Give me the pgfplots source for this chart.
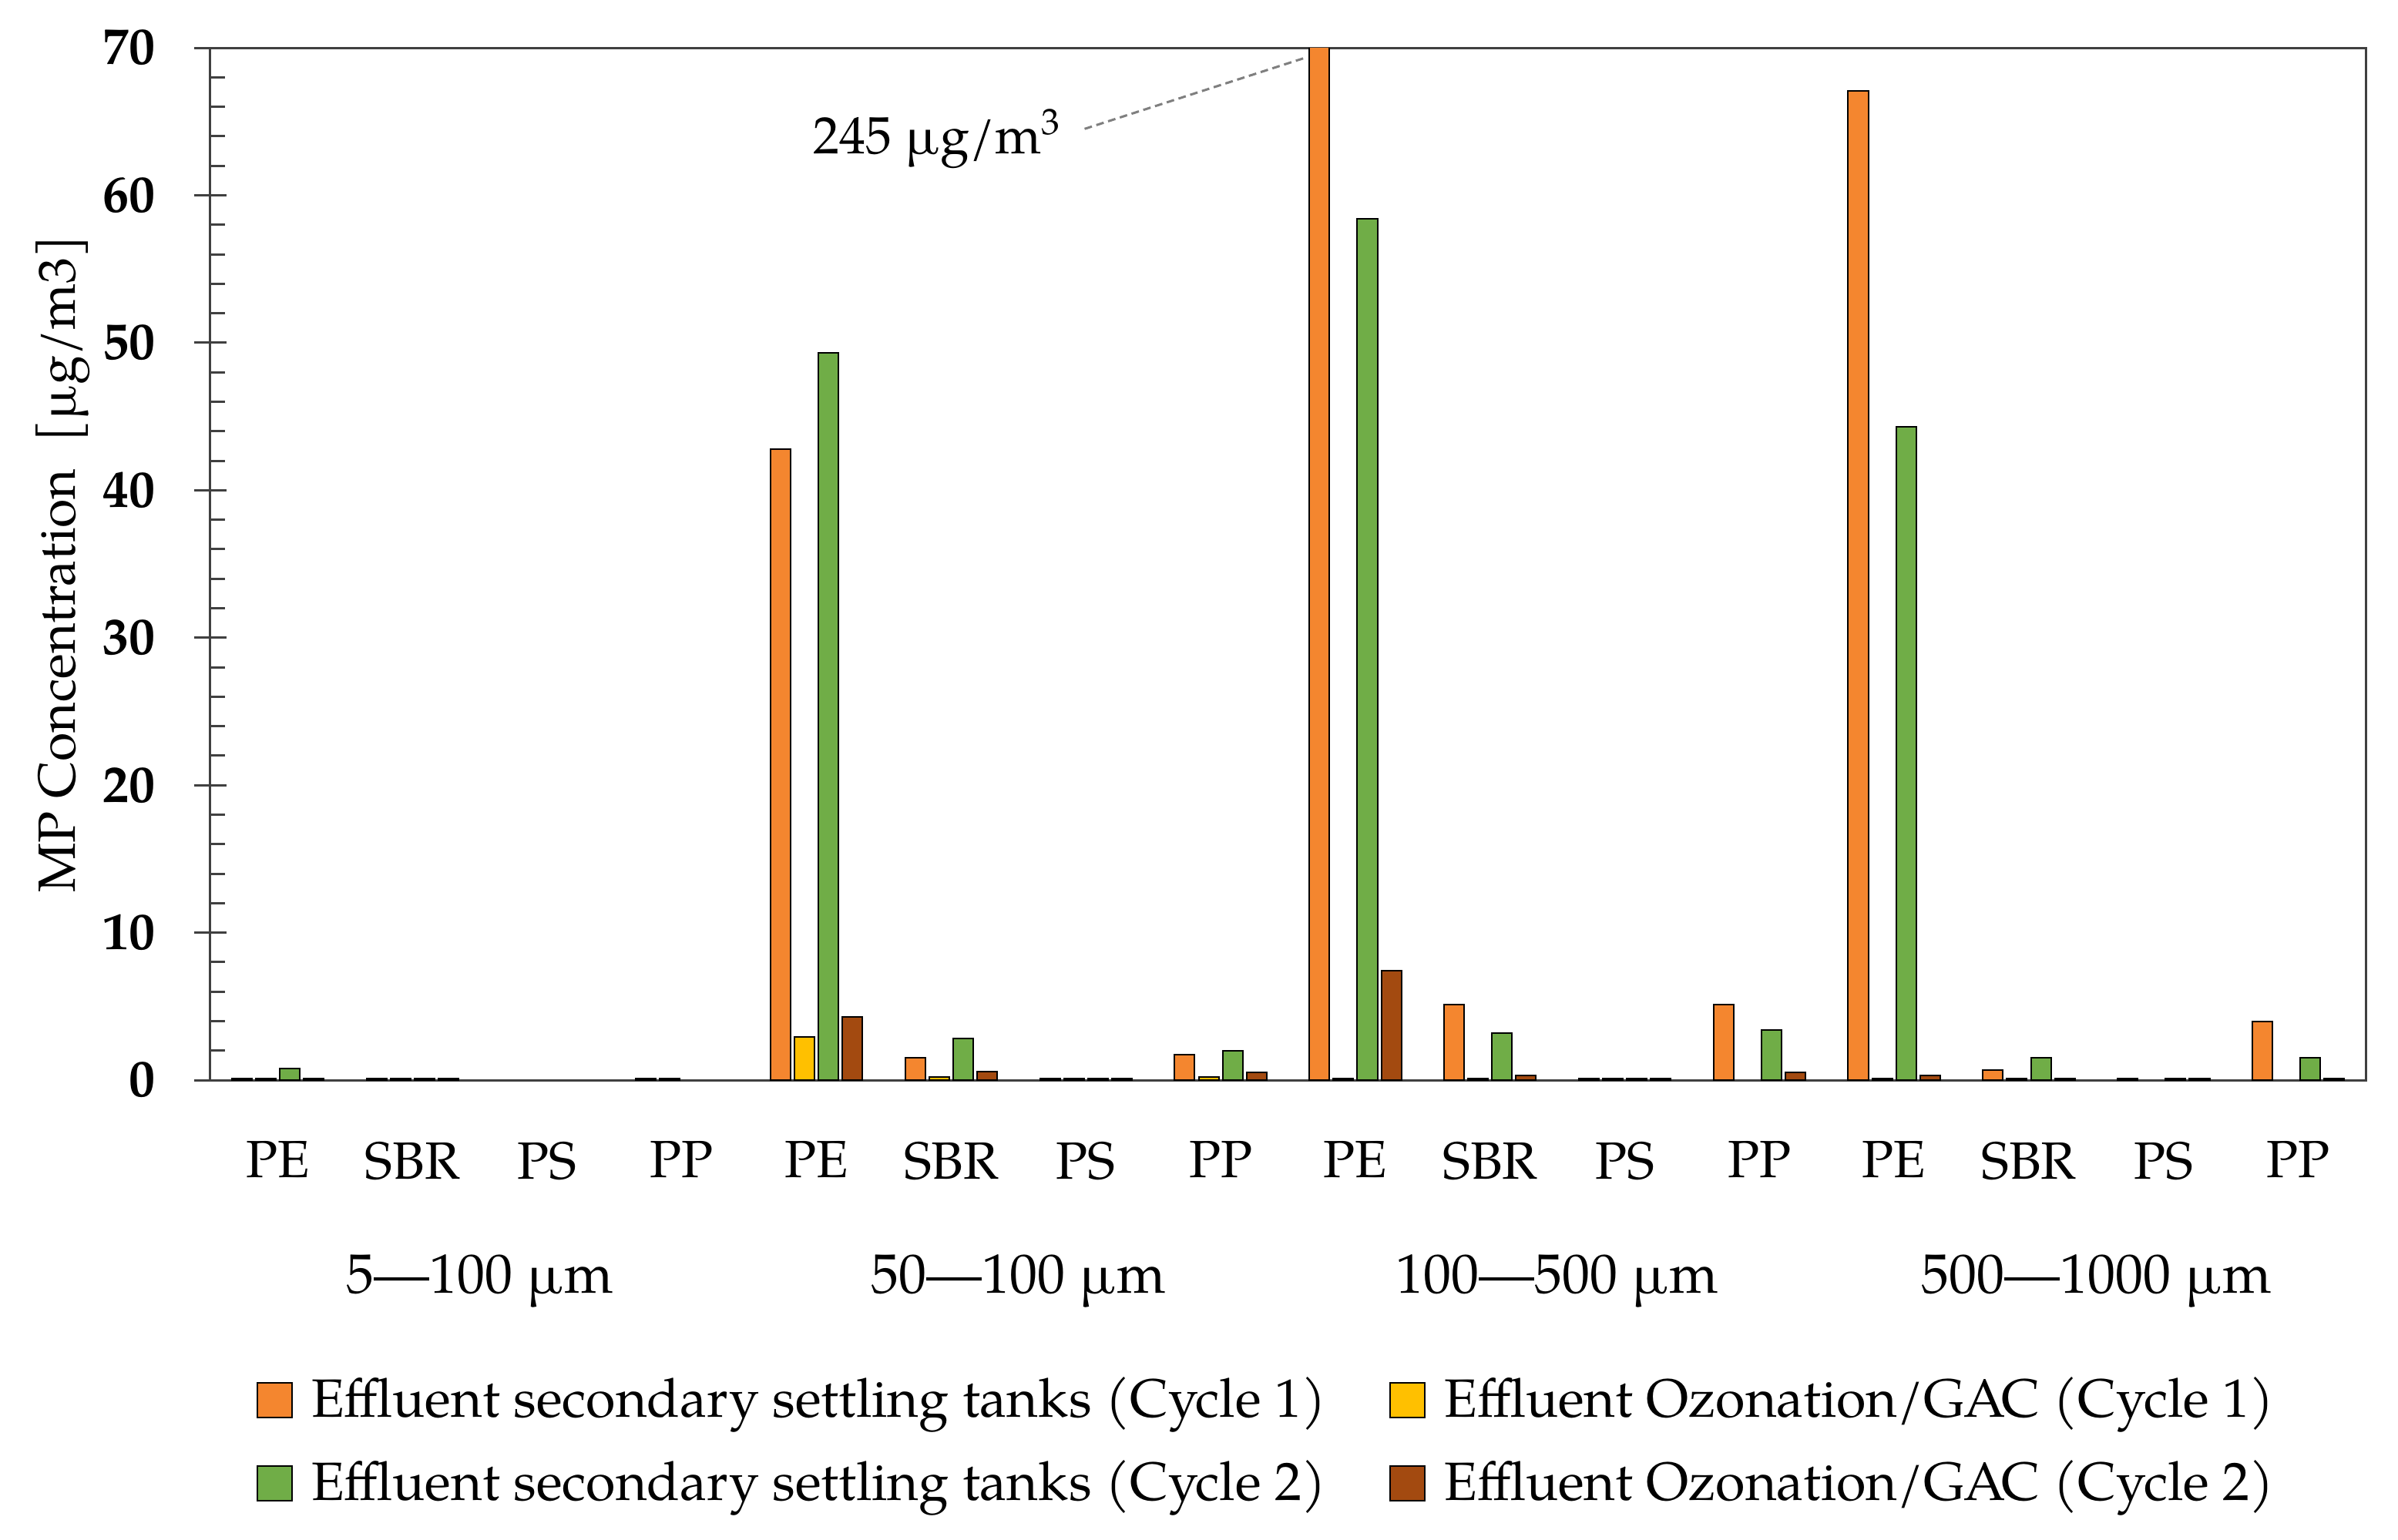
\documentclass[border=0pt]{standalone}
\usepackage{fontspec}
\setmainfont{TeX Gyre Pagella}
\usepackage{pgfplots}
\pgfplotsset{compat=1.18}
\usepackage{pgfplotstable}

\definecolor{cOr}{HTML}{F4862F}
\definecolor{cYe}{HTML}{FFC000}
\definecolor{cGr}{HTML}{70AD47}
\definecolor{cBr}{HTML}{A34A10}
\definecolor{axgray}{HTML}{404040}
\definecolor{dashgray}{HTML}{7F7F7F}

\newcommand\fs{\fontsize{17pt}{20pt}\selectfont}
\newcommand\fsl{\fontsize{17.5pt}{20pt}\selectfont}
\newcommand\fsb{\fontsize{18pt}{21pt}\selectfont}

\pgfplotstableread{
x o y g b
0 0.1 0.1 0.8 0.1
1 0.1 0.1 0.1 0.1
2 nan nan nan nan
3 0.1 0.1 nan nan
4 42.8 2.9 49.3 4.3
5 1.5 0.2 2.8 0.6
6 0.1 0.1 0.1 0.1
7 1.7 0.2 2.0 0.5
8 245 0.1 58.4 7.4
9 5.1 0.1 3.2 0.3
10 0.1 0.1 0.1 0.1
11 5.1 nan 3.4 0.5
12 67.1 0.1 44.3 0.3
13 0.7 0.1 1.5 0.1
14 0.1 nan 0.1 0.1
15 3.95 nan 1.5 0.1
}\data

\pgfplotsset{
  lg/.style={legend image code/.code={%
    \draw[##1,line width=0.5pt] (0pt,-4pt) rectangle (11.25pt,7.25pt);
    \path (17.25pt,0pt);}},
}

\begin{document}
\begin{tikzpicture}
\useasboundingbox (-68.25pt,-149.25pt) rectangle (709.75pt,350.5pt);
\begin{axis}[
  at={(0,0)}, anchor=south west,
  scale only axis, width=699.25pt, height=335pt,
  xmin=-0.5, xmax=15.5, ymin=0, ymax=70,
  ybar, bar width=0.149,
  unbounded coords=discard,
  clip mode=individual,
  axis line style={draw=axgray, line width=0.75pt},
  xtick={0,...,15},
  xticklabels={PE,SBR,PS,PP,PE,SBR,PS,PP,PE,SBR,PS,PP,PE,SBR,PS,PP},
  major x tick style={draw=none},
  xtick pos=bottom,
  ytick={0,10,...,70},
  minor y tick num=4,
  ytick pos=left,
  tick align=center,
  major tick length=10.5pt,
  minor tick length=4.7pt,
  every tick/.style={draw=axgray, line width=0.75pt},
  minor y tick style={xshift=2.35pt},
  /pgf/number format/assume math mode=true,
  yticklabel style={font=\bfseries\fs, inner sep=0pt},
  yticklabel shift=12.5pt,
  xticklabel style={font=\fs, inner sep=0pt, anchor=north},
  xticklabel shift=14.5pt,
  ylabel={MP Concentration\ \ [µg/m3]},
  ylabel style={at={(axis description cs:-0.0626,0.5)}, anchor=base, font=\fs},
  legend columns=2,
  legend cell align=left,
  legend style={at={(axis description cs:0.02145,-0.291)}, anchor=north west,
    draw=none, fill=none, inner sep=0pt, outer sep=0pt,
    nodes={inner sep=0pt, font=\fsl, text height=12pt, text depth=4pt}, row sep=11pt,
    /tikz/every even column/.append style={column sep=20.5pt}},
]
\addplot[fill=cOr, draw=black, line width=0.5pt, bar shift=-0.267, lg] table[x=x,y=o]{\data};
\addlegendentry{Effluent secondary settling tanks (Cycle 1)}
\addplot[fill=cYe, draw=black, line width=0.5pt, bar shift=-0.089, lg] table[x=x,y=y]{\data};
\addlegendentry{Effluent Ozonation/GAC (Cycle 1)}
\addplot[fill=cGr, draw=black, line width=0.5pt, bar shift=0.089, lg] table[x=x,y=g]{\data};
\addlegendentry{Effluent secondary settling tanks (Cycle 2)}
\addplot[fill=cBr, draw=black, line width=0.5pt, bar shift=0.267, lg] table[x=x,y=b]{\data};
\addlegendentry{Effluent Ozonation/GAC (Cycle 2)}

\node[anchor=base east, inner sep=0pt, font=\fs] at (axis cs:5.82,62.8) {245 µg/m\textsuperscript{3}};
\draw[dashgray, dash pattern=on 2.5pt off 1.5pt, line width=0.75pt] (axis cs:5.99,64.5) -- (axis cs:7.62,69.3);

\node[anchor=base, font=\fsb, yshift=-69pt] at (axis cs:1.5,0) {5—100 µm};
\node[anchor=base, font=\fsb, yshift=-69pt] at (axis cs:5.5,0) {50—100 µm};
\node[anchor=base, font=\fsb, yshift=-69pt] at (axis cs:9.5,0) {100—500 µm};
\node[anchor=base, font=\fsb, yshift=-69pt] at (axis cs:13.5,0) {500—1000 µm};
\end{axis}
\end{tikzpicture}
\end{document}
